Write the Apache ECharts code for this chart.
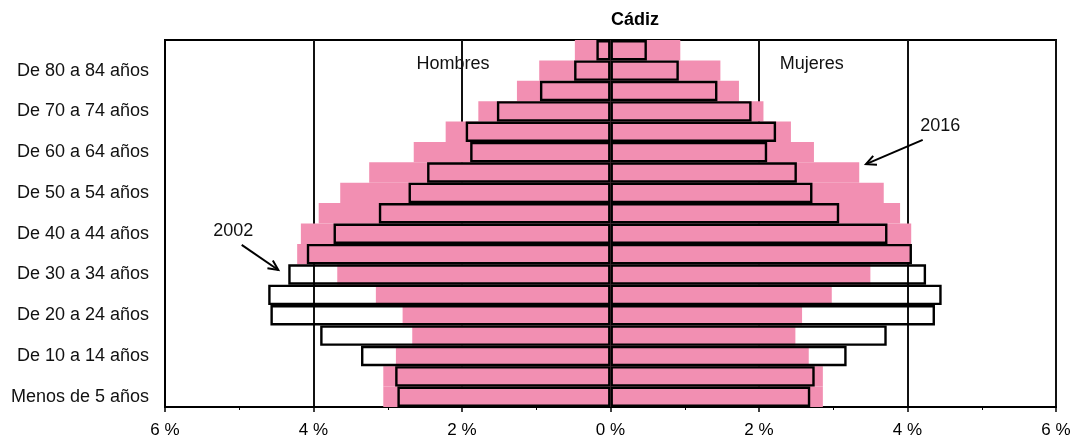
<!DOCTYPE html>
<html><head><meta charset="utf-8">
<script src="https://cdn.jsdelivr.net/npm/echarts@6/dist/echarts.min.js"></script>
<style>html,body{margin:0;padding:0;background:#fff}#c{width:1082px;height:441px}</style>
</head><body><div id="c"></div>
<script>
// Age groups (bottom to top)
const categories = ['Menos de 5 años','De 5 a 9 años','De 10 a 14 años','De 15 a 19 años','De 20 a 24 años','De 25 a 29 años','De 30 a 34 años','De 35 a 39 años','De 40 a 44 años','De 45 a 49 años','De 50 a 54 años','De 55 a 59 años','De 60 a 64 años','De 65 a 69 años','De 70 a 74 años','De 75 a 79 años','De 80 a 84 años','De 85 y más años'];
// Percent of total population
const hombres2016 = [3.06, 3.06, 2.89, 2.67, 2.80, 3.16, 3.68, 4.22, 4.17, 3.93, 3.64, 3.25, 2.65, 2.22, 1.78, 1.26, 0.96, 0.48];
const mujeres2016 = [2.86, 2.86, 2.67, 2.49, 2.58, 2.98, 3.50, 4.04, 4.05, 3.90, 3.68, 3.35, 2.74, 2.43, 2.06, 1.73, 1.48, 0.94];
const hombres2002 = [2.87, 2.90, 3.36, 3.91, 4.58, 4.61, 4.34, 4.09, 3.73, 3.12, 2.72, 2.47, 1.89, 1.95, 1.53, 0.95, 0.49, 0.19];
const mujeres2002 = [2.69, 2.75, 3.18, 3.72, 4.37, 4.46, 4.25, 4.06, 3.73, 3.08, 2.72, 2.51, 2.11, 2.23, 1.90, 1.44, 0.92, 0.49];
const xMin = -6, xMax = 6, xInterval = 2;
const titleText = 'Cádiz';
// annotation anchors in data units (x: %, y: category index)
const labels = [
  {text: 'Hombres', x: -2.12, y: 16.3},
  {text: 'Mujeres', x: 2.71, y: 16.3},
  {text: '2016', x: 4.44, y: 13.3},
  {text: '2002', x: -5.08, y: 8.12}
];
const arrows = [
  {from: [4.205, 12.6], to: [3.441, 11.41]},
  {from: [-4.967, 7.45], to: [-4.474, 6.22]}
];

const FONT = 'Liberation Sans';
const PINK = '#F28FB2';
const chart = echarts.init(document.getElementById('c'), null, {renderer: 'canvas'});
const neg = a => a.map(v => -v);
const barBase = {type: 'bar', barGap: '-100%', barCategoryGap: '0%', animation: false};
const option = {
  animation: false,
  backgroundColor: '#fff',
  title: {text: titleText, left: 606, top: 6, textStyle: {fontFamily: FONT, fontSize: 18, fontWeight: 'bold', color: '#000'}},
  grid: {left: 165, right: 26, top: 40, bottom: 34, show: true, borderColor: '#000', borderWidth: 2, backgroundColor: '#fff'},
  xAxis: {
    type: 'value', min: xMin, max: xMax, interval: xInterval,
    axisLine: {show: true, onZero: false, lineStyle: {color: '#000', width: 2}},
    axisTick: {show: true, length: 5, lineStyle: {color: '#000', width: 1.5}},
    minorTick: {show: true, splitNumber: 2, length: 3, lineStyle: {color: '#000', width: 1}},
    axisLabel: {margin: 15, fontFamily: FONT, fontSize: 17, color: '#000', formatter: v => Math.abs(v) + ' %'},
    splitLine: {show: true, lineStyle: {color: '#111', width: 2}}
  },
  yAxis: {
    type: 'category', data: categories,
    axisLine: {show: true, onZero: false, lineStyle: {color: '#000', width: 2}},
    axisTick: {show: false},
    axisLabel: {interval: 1, margin: 16, fontFamily: FONT, fontSize: 18, color: '#111'},
    splitLine: {show: false}
  },
  series: [
    Object.assign({}, barBase, {name: 'Hombres 2016', data: neg(hombres2016), itemStyle: {color: PINK}}),
    Object.assign({}, barBase, {name: 'Mujeres 2016', data: mujeres2016, itemStyle: {color: PINK}}),
    Object.assign({}, barBase, {name: 'Hombres 2002', data: neg(hombres2002), itemStyle: {color: 'rgba(0,0,0,0)', borderColor: '#000', borderWidth: 2.4}}),
    Object.assign({}, barBase, {name: 'Mujeres 2002', data: mujeres2002, itemStyle: {color: 'rgba(0,0,0,0)', borderColor: '#000', borderWidth: 2.4}})
  ]
};
chart.setOption(option);

function toPx(x, yIdx) {
  const px = chart.convertToPixel({xAxisIndex: 0}, x);
  const y0 = chart.convertToPixel({yAxisIndex: 0}, categories[0]);
  const y1 = chart.convertToPixel({yAxisIndex: 0}, categories[1]);
  return [px, y0 + (y1 - y0) * yIdx];
}
const g = [];
labels.forEach(l => {
  const p = toPx(l.x, l.y);
  g.push({type: 'text', x: p[0], y: p[1], z: 100, style: {text: l.text, fontFamily: FONT, fontSize: 18, fill: '#111', align: 'center', verticalAlign: 'middle'}});
});
arrows.forEach(a => {
  const p1 = toPx(a.from[0], a.from[1]);
  const p2 = toPx(a.to[0], a.to[1]);
  const ang = Math.atan2(p2[1] - p1[1], p2[0] - p1[0]);
  const L = 11, spread = 0.45;
  const h1 = [p2[0] - L * Math.cos(ang - spread), p2[1] - L * Math.sin(ang - spread)];
  const h2 = [p2[0] - L * Math.cos(ang + spread), p2[1] - L * Math.sin(ang + spread)];
  g.push({type: 'line', z: 100, shape: {x1: p1[0], y1: p1[1], x2: p2[0], y2: p2[1]}, style: {stroke: '#000', lineWidth: 2}});
  g.push({type: 'polyline', z: 100, shape: {points: [h1, p2, h2]}, style: {stroke: '#000', lineWidth: 2, fill: null}});
});
chart.setOption({graphic: g});
</script>
</body></html>
